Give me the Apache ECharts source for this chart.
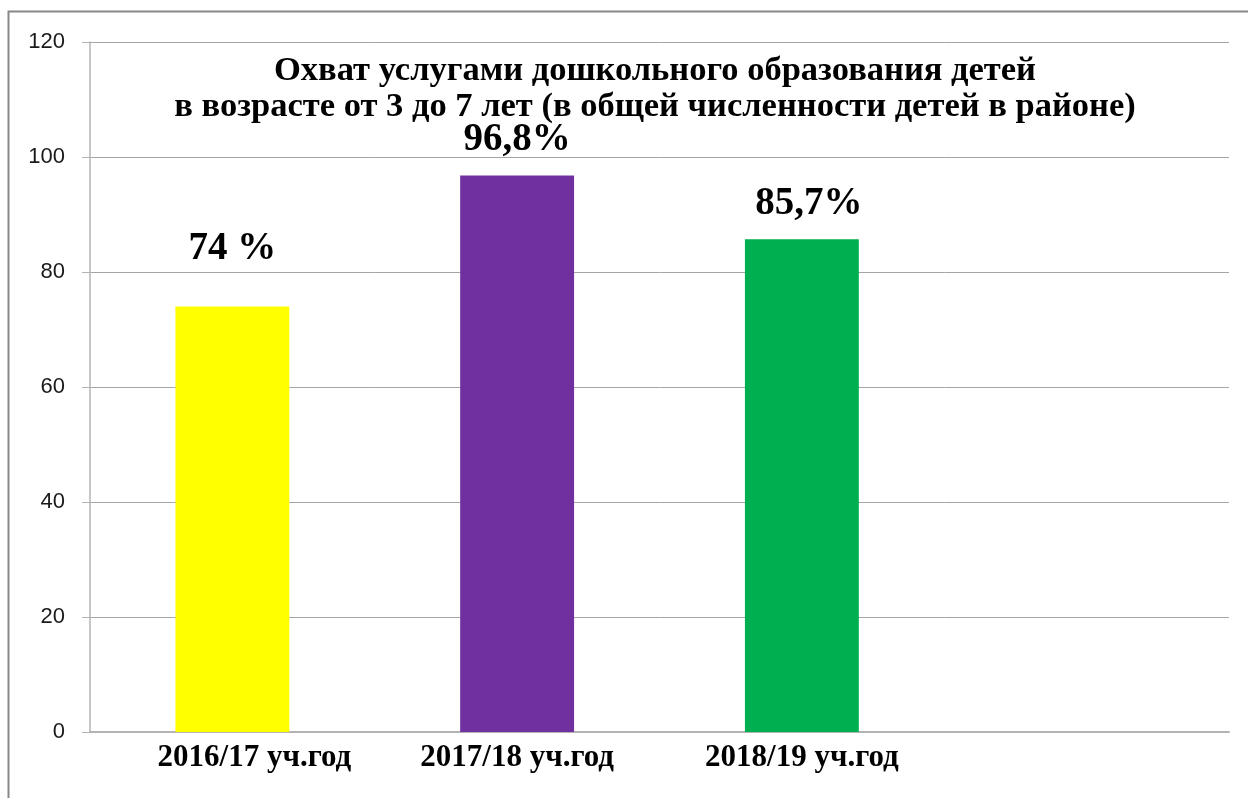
<!DOCTYPE html>
<html>
<head>
<meta charset="utf-8">
<script src="https://cdn.jsdelivr.net/npm/echarts@6/dist/echarts.min.js"></script>
<style>
  html, body { margin: 0; padding: 0; background: #fff; }
  #chart { width: 1248px; height: 798px; }
</style>
</head>
<body>
<div id="chart"></div>
<script>
"use strict";
var categories = ['2016/17 уч.год', '2017/18 уч.год', '2018/19 уч.год', ''];
var values = [74, 96.8, 85.7, null];
var barLabels = ['74 %', '96,8%', '85,7%', ''];
var barColors = ['#FFFF00', '#7030A0', '#00B050', '#FFFFFF'];
var yTicks = [0, 20, 40, 60, 80, 100, 120];

var chart = echarts.init(document.getElementById('chart'));

var seriesData = values.map(function (v, i) {
    var item = {value: v, itemStyle: {color: barColors[i]}};
    if (i === 0) {
        item.label = {distance: 38}; // подпись первого столбца выше
    }
    if (i === 2) {
        item.label = {offset: [7, 0]};
    }
    return item;
});

var xData = categories.map(function (c, i) {
    if (i === 0) {
        return {value: c, textStyle: {padding: [0, 0, 0, 44]}};
    }
    return c;
});

var option = {
    backgroundColor: '#fff',
    animation: false,
    title: {
        text: 'Охват услугами дошкольного образования детей\nв возрасте от 3 до 7 лет (в общей численности детей в районе)',
        left: 650,
        top: 48,
        textAlign: 'center',
        textStyle: {
            fontFamily: 'Liberation Serif',
            fontWeight: 'bold',
            fontSize: 34.5,
            lineHeight: 36,
            color: '#000'
        }
    },
    graphic: [{
        type: 'rect',
        shape: {x: 8.5, y: 11.5, width: 1260, height: 800},
        style: {fill: 'none', stroke: '#888', lineWidth: 2},
        silent: true
    }],
    grid: {left: 90, right: 19, top: 42, bottom: 66},
    xAxis: {
        type: 'category',
        data: xData,
        axisLine: {lineStyle: {color: '#B3B3B3', width: 2}},
        axisTick: {show: false},
        axisLabel: {
            fontFamily: 'Liberation Serif',
            fontWeight: 'bold',
            fontSize: 31,
            color: '#000',
            margin: 10
        }
    },
    yAxis: {
        type: 'value',
        min: yTicks[0],
        max: yTicks[yTicks.length - 1],
        interval: 20,
        axisLine: {show: true, lineStyle: {color: '#B3B3B3', width: 1.5}},
        axisTick: {show: true, length: 8, lineStyle: {color: '#B3B3B3'}},
        splitLine: {lineStyle: {color: '#A6A6A6', width: 1}},
        axisLabel: {
            fontFamily: 'Liberation Sans',
            fontSize: 22,
            color: '#1a1a1a',
            margin: 25
        }
    },
    series: [{
        type: 'bar',
        data: seriesData,
        barWidth: '40%',
        label: {
            show: true,
            position: 'top',
            distance: 16,
            fontFamily: 'Liberation Serif',
            fontWeight: 'bold',
            fontSize: 39,
            color: '#000',
            formatter: function (p) { return barLabels[p.dataIndex]; }
        }
    }]
};

chart.setOption(option);
</script>
</body>
</html>
